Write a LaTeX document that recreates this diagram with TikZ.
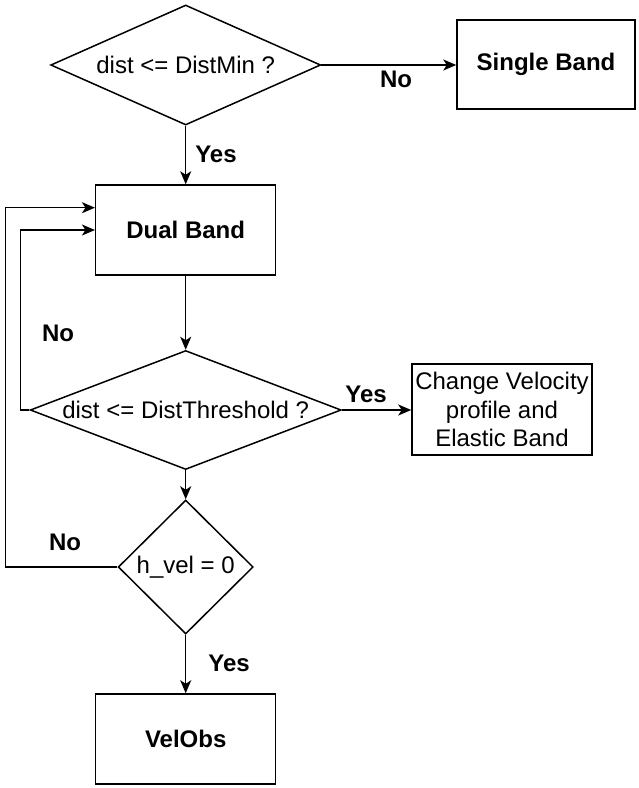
\documentclass[tikz,border=0pt]{standalone}
\usepackage{fontspec}
\setmainfont{Liberation Sans}
\usetikzlibrary{shapes.geometric,arrows.meta}
\begin{document}
\begin{tikzpicture}[x=1pt,y=-1pt,
  every node/.style={font=\fontsize{24}{28.5}\selectfont},
  box/.style={draw,line width=1.5pt,rectangle,inner sep=0pt,minimum width=180pt,minimum height=90pt,align=center},
  dia/.style={draw,line width=1.5pt,diamond,inner sep=0pt},
  lbl/.style={font=\fontsize{24}{28.5}\selectfont\bfseries,inner sep=0pt},
  conn/.style={line width=1.5pt,-{Stealth[length=13pt,width=11pt,inset=3.5pt]}},
  plain/.style={line width=1.5pt}]
\useasboundingbox (0,0) rectangle (639,788);
\node[dia,minimum width=270pt,minimum height=120pt,shape aspect=2.25] (d1) at (185.7,65) {dist <= DistMin ?};
\node[box,minimum width=178pt,minimum height=89pt,font=\fontsize{24}{28.5}\selectfont\bfseries] (single) at (546,64.5) {Single Band};
\node[box,font=\fontsize{24}{28.5}\selectfont\bfseries] (dual) at (185.7,230) {Dual Band};
\node[dia,minimum width=311pt,minimum height=119pt,shape aspect=2.63] (d2) at (185.7,410) {dist <= DistThreshold ?};
\node[box,minimum height=91pt] (cv) at (502,409.5) {Change Velocity\\profile and\\Elastic Band};
\node[dia,minimum width=135pt,minimum height=134pt,shape aspect=1] (d3) at (185.7,567) {h\_vel = 0};
\node[box,font=\fontsize{24}{28.5}\selectfont\bfseries] (vel) at (185.7,739) {VelObs};

\coordinate (l1) at (20.5,410);
\coordinate (l2) at (5.3,567);

\draw[conn] (d1.east) -- (d1.east -| single.west);
\draw[conn] (d1.south) -- (dual.north);
\draw[conn] (dual.south) -- (d2.north);
\draw[conn] (d2.east) -- (d2.east -| cv.west);
\draw[conn] (d2.west) -- (l1) |- (dual.west);
\draw[conn] (d2.south) -- (d3.north);
\draw[conn] (d3.west) -- (l2) |- ([yshift=22.3pt]dual.west);
\draw[conn] (d3.south) -- (vel.north);

\node[lbl] (n1) at (396,79) {No};
\node[lbl] (y1) at (216,154) {Yes};
\node[lbl] (n2) at (58,333) {No};
\node[lbl] (y2) at (366,394) {Yes};
\node[lbl] (n3) at (65,542) {No};
\node[lbl] (y3) at (229,663) {Yes};
\end{tikzpicture}
\end{document}
